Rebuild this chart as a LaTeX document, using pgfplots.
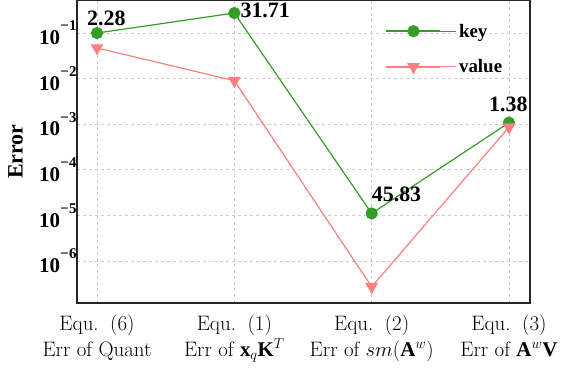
\documentclass[border=0pt]{standalone}
\usepackage{pgfplots}
\pgfplotsset{compat=1.18}
\usepackage{fontspec}
\setmainfont{Liberation Serif}
\newfontfamily\lmr{Latin Modern Roman}
\definecolor{kgreen}{RGB}{52,158,36}
\definecolor{vpink}{RGB}{252,128,128}
\newcommand{\tl}[1]{\textbf{10}\hspace{0.5bp}\raisebox{0.66em}{\fontsize{15}{15}\selectfont\textbf{−#1}}}
\newcommand{\eq}[1]{Equ.\hspace{0.55em}(#1)}
\begin{document}
\begin{tikzpicture}
\begin{axis}[
  scale only axis,
  width=453bp, height=303bp,
  ymode=log,
  xmin=-0.146, xmax=3.153,
  ymin=1.19e-7, ymax=0.531,
  clip=false,
  axis line style={black!85, line width=1.1pt},
  major tick length=0pt,
  minor tick length=0pt,
  grid=major,
  major grid style={dashed, gray!40, line width=0.5pt},
  xtick={0,1,2,3},
  xticklabels={{\eq{6}\\Err of Quant},
               {\eq{1}\\Err of $\mathbf{x}_q\mathbf{K}^T$},
               {\eq{2}\\Err of $sm(\mathbf{A}^w)$},
               {\eq{3}\\Err of $\mathbf{A}^w\mathbf{V}$}},
  xticklabel style={font=\lmr\fontsize{21}{26}\selectfont, align=center, yshift=-8bp},
  ytick={1e-6,1e-5,1e-4,1e-3,1e-2,1e-1},
  yticklabels={{\tl{6}},{\tl{5}},{\tl{4}},{\tl{3}},{\tl{2}},{\tl{1}}},
  yticklabel style={font=\fontsize{21}{24}\selectfont, xshift=3bp},
  ylabel={\textbf{Error}},
  ylabel style={font=\fontsize{22}{24}\selectfont, at={(rel axis cs:-0.1358,0.5)}, anchor=center},
  legend style={at={(0.95,0.935)}, anchor=north east, draw=none, fill=none,
                font=\fontsize{19}{22}\selectfont\bfseries, row sep=17bp},
  legend cell align=left,
  legend image code/.code={
    \path (0bp,0bp) -- (70bp,0bp);
    \draw[line width=1.5pt] (0bp,0bp) -- (54bp,0bp);
    \draw plot coordinates {(27bp,0bp)};},
]
\addplot[kgreen, line width=1.2pt, mark=*, mark size=5.5bp, mark options={solid, fill=kgreen, draw=kgreen}]
  coordinates {(0,0.100) (1,0.275) (2,1.1e-5) (3,1.08e-3)};
\addlegendentry{key}
\addplot[vpink, line width=1.2pt, mark=triangle*, mark size=6.2bp, mark options={solid, fill=vpink, draw=vpink, rotate=180}]
  coordinates {(0,0.047) (1,0.0090) (2,2.7e-7) (3,8.6e-4)};
\addlegendentry{value}
\begin{scope}[font=\fontsize{22}{24}\selectfont\bfseries]
\node[anchor=base west, inner sep=0pt, xshift=-10bp, yshift=8bp] at (axis cs:0,0.100) {2.28};
\node[anchor=base west, inner sep=0pt, xshift=6bp, yshift=-4bp] at (axis cs:1,0.275) {31.71};
\node[anchor=base west, inner sep=0pt, xshift=0bp, yshift=12bp] at (axis cs:2,1.1e-5) {45.83};
\node[anchor=base west, inner sep=0pt, xshift=-20bp, yshift=11bp] at (axis cs:3,1.08e-3) {1.38};
\end{scope}
\end{axis}
\pgfresetboundingbox
\path[use as bounding box] ([xshift=-77bp, yshift=-66bp]current axis.south west) rectangle ([xshift=35bp]current axis.north east);
\end{tikzpicture}
\end{document}
